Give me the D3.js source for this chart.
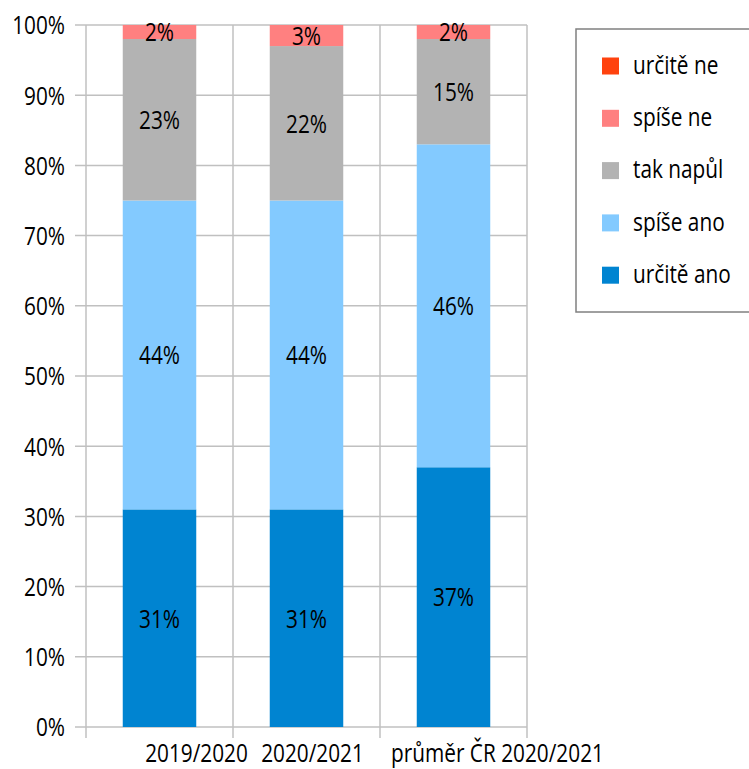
<!DOCTYPE html>
<html>
<head>
<meta charset="utf-8">
<script src="https://cdn.jsdelivr.net/npm/d3@7"></script>
<style>
  body { margin: 0; background: #fff; }
  svg text { font-family: "Open Sans", "Noto Sans", sans-serif; font-size: 26px; fill: #000; }
</style>
</head>
<body>
<div id="chart"></div>
<script>
// data
const categories = ['2019/2020', '2020/2021', 'průměr ČR 2020/2021'];
const seriesNames = ['určitě ano', 'spíše ano', 'tak napůl', 'spíše ne', 'určitě ne'];
const urciteAno = [31, 31, 37];
const spiseAno = [44, 44, 46];
const takNapul = [23, 22, 15];
const spiseNe = [2, 3, 2];
const urciteNe = [0, 0, 0];
const yTicks = [0, 10, 20, 30, 40, 50, 60, 70, 80, 90, 100];

const colors = ['#0084d1', '#83caff', '#b3b3b3', '#ff8080', '#ff420e'];
// x label nudges (LibreOffice-like placement)
const labelShift = [37, 6, 44];
const squeeze = 0.8; // condensed look

const width = 749, height = 769;
const m = { left: 86, right: 222, top: 25, bottom: 42 };

const svg = d3.select('#chart').append('svg')
  .attr('width', width)
  .attr('height', height);

const place = (x, y) => `translate(${x},${y}) scale(${squeeze},1)`;

const rows = categories.map((c, i) => ({
  cat: c,
  'určitě ano': urciteAno[i],
  'spíše ano': spiseAno[i],
  'tak napůl': takNapul[i],
  'spíše ne': spiseNe[i],
  'určitě ne': urciteNe[i]
}));
const stacked = d3.stack().keys(seriesNames)(rows);

const x = d3.scaleBand()
  .domain(categories)
  .range([m.left, width - m.right])
  .paddingInner(0)
  .paddingOuter(0);
const y = d3.scaleLinear().domain([0, 100]).range([height - m.bottom, m.top]);

const barW = x.bandwidth() * 0.5;
const grid = svg.append('g');

// horizontal gridlines with tick extension
grid.selectAll('.hg').data(yTicks).join('line')
  .attr('x1', m.left - 11)
  .attr('x2', width - m.right)
  .attr('y1', d => y(d))
  .attr('y2', d => y(d))
  .attr('stroke', '#c0c0c0')
  .attr('stroke-width', 1.5);

// vertical lines at category boundaries
const edges = categories.map(c => x(c)).concat([x(categories[categories.length - 1]) + x.bandwidth()]);
grid.selectAll('.vg').data(edges).join('line')
  .attr('x1', d => d).attr('x2', d => d)
  .attr('y1', m.top)
  .attr('y2', height - m.bottom + 11)
  .attr('stroke', '#c0c0c0')
  .attr('stroke-width', 1.5);

// bars
const layers = svg.append('g').selectAll('g').data(stacked).join('g')
  .attr('fill', (d, i) => colors[i]);
layers.selectAll('rect').data(d => d.filter(p => p[1] > p[0])).join('rect')
  .attr('x', d => x(d.data.cat) + (x.bandwidth() - barW) / 2)
  .attr('width', barW)
  .attr('y', d => y(d[1]))
  .attr('height', d => y(d[0]) - y(d[1]));

// value labels
const lbl = svg.append('g');
stacked.forEach(s => {
  s.forEach(p => {
    const v = p[1] - p[0];
    if (v <= 0) return;
    lbl.append('text')
      .attr('transform', place(x(p.data.cat) + x.bandwidth() / 2, y((p[0] + p[1]) / 2)))
      .attr('dy', '0.36em')
      .attr('text-anchor', 'middle')
      .text(v + '%');
  });
});

// y tick labels
svg.append('g').selectAll('text').data(yTicks).join('text')
  .attr('transform', d => place(65, y(d)))
  .attr('dy', '0.36em')
  .attr('text-anchor', 'end')
  .text(d => d + '%');

// x labels
svg.append('g').selectAll('text').data(categories).join('text')
  .attr('transform', (d, i) => place(x(d) + x.bandwidth() / 2 + labelShift[i], 762))
  .attr('text-anchor', 'middle')
  .text(d => d);

// legend
const leg = svg.append('g');
leg.append('rect')
  .attr('x', 576).attr('y', 29)
  .attr('width', 200).attr('height', 283)
  .attr('fill', '#fff')
  .attr('stroke', '#808080')
  .attr('stroke-width', 1.5);
const legOrder = seriesNames.slice().reverse();
const legItems = leg.selectAll('g.item').data(legOrder).join('g')
  .attr('transform', (d, i) => `translate(602, ${66 + i * 52.3})`);
legItems.append('rect')
  .attr('x', 0).attr('y', -8.5)
  .attr('width', 17).attr('height', 17)
  .attr('fill', d => colors[seriesNames.indexOf(d)]);
legItems.append('text')
  .attr('transform', place(31, 0))
  .attr('dy', '0.3em')
  .text(d => d);
</script>
</body>
</html>
